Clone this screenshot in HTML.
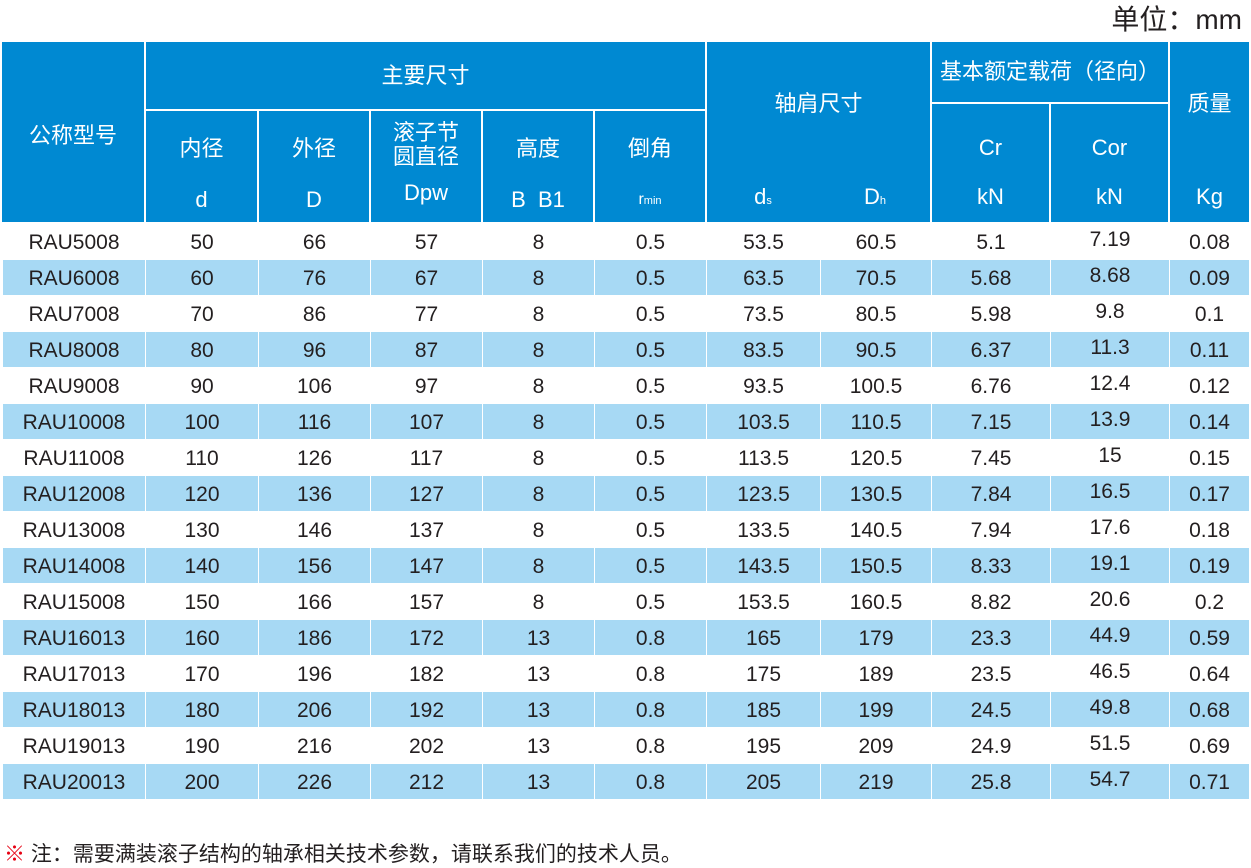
<!DOCTYPE html>
<html><head><meta charset="utf-8"><style>
body{margin:0;width:1251px;height:866px;background:#fff;position:relative;overflow:hidden;font-family:"Liberation Sans","Noto Sans CJK SC",sans-serif;color:#231f20}
.h{position:absolute;background:#0089d2;color:#fff;font-size:22px;text-align:center;box-sizing:border-box}
.unit{position:absolute;right:9px;top:-2px;font-size:28px;color:#231f20}
table{position:absolute;left:2px;top:223px;border-collapse:collapse;table-layout:fixed;font-size:21px}
td{height:32px;border:1px solid #fff;text-align:center;padding:3px 0 0 0;line-height:32px;vertical-align:top;overflow:hidden;white-space:nowrap}
tr:nth-child(even) td{background:#a7d9f4}
td.c{padding-top:0;height:35px}
.note{position:absolute;left:4px;top:838px;font-size:21px;color:#231f20}
.note b{color:#e60012;font-weight:normal}
sub{font-size:11px;vertical-align:baseline}
</style></head><body>
<div class="unit">单位：mm</div>
<div class="h" style="left:2px;top:42px;width:142px;height:180px;padding-top:76px">公称型号</div>
<div class="h" style="left:146px;top:42px;width:559px;height:67px;line-height:67px">主要尺寸</div>
<div class="h" style="left:146px;top:111px;width:111px;height:111px;padding-top:22px;line-height:32px">内径<br><span style="line-height:70px">d</span></div>
<div class="h" style="left:259px;top:111px;width:110px;height:111px;padding-top:22px;line-height:32px">外径<br><span style="line-height:70px">D</span></div>
<div class="h" style="left:371px;top:111px;width:110px;height:111px;padding-top:10px;line-height:24px">滚子节<br>圆直径<br><span style="line-height:48px">Dpw</span></div>
<div class="h" style="left:483px;top:111px;width:110px;height:111px;padding-top:22px;line-height:32px">高度<br><span style="line-height:70px">B&nbsp;&nbsp;B1</span></div>
<div class="h" style="left:595px;top:111px;width:110px;height:111px;padding-top:22px;line-height:32px">倒角<br><span style="line-height:70px;font-size:16px">r<sub>min</sub></span></div>
<div class="h" style="left:707px;top:42px;width:223px;height:180px;padding-top:44px">轴肩尺寸</div>
<div class="h" style="left:707px;top:184px;width:112px;height:30px;background:none">d<sub>s</sub></div>
<div class="h" style="left:819px;top:184px;width:112px;height:30px;background:none">D<sub>h</sub></div>
<div class="h" style="left:932px;top:42px;width:236px;height:60px;line-height:60px">基本额定载荷（径向）</div>
<div class="h" style="left:932px;top:104px;width:117px;height:118px;padding-top:28px;line-height:32px">Cr<br><span style="line-height:66px">kN</span></div>
<div class="h" style="left:1051px;top:104px;width:117px;height:118px;padding-top:28px;line-height:32px">Cor<br><span style="line-height:66px">kN</span></div>
<div class="h" style="left:1170px;top:42px;width:79px;height:180px;padding-top:44px">质量<br><span style="display:block;margin-top:66px">Kg</span></div>
<table>
<colgroup><col style="width:143px"><col style="width:113px"><col style="width:112px"><col style="width:112px"><col style="width:112px"><col style="width:112px"><col style="width:114px"><col style="width:111px"><col style="width:119px"><col style="width:119px"><col style="width:80px"></colgroup>
<tr><td>RAU5008</td><td>50</td><td>66</td><td>57</td><td>8</td><td>0.5</td><td>53.5</td><td>60.5</td><td>5.1</td><td class="c">7.19</td><td>0.08</td></tr>
<tr><td>RAU6008</td><td>60</td><td>76</td><td>67</td><td>8</td><td>0.5</td><td>63.5</td><td>70.5</td><td>5.68</td><td class="c">8.68</td><td>0.09</td></tr>
<tr><td>RAU7008</td><td>70</td><td>86</td><td>77</td><td>8</td><td>0.5</td><td>73.5</td><td>80.5</td><td>5.98</td><td class="c">9.8</td><td>0.1</td></tr>
<tr><td>RAU8008</td><td>80</td><td>96</td><td>87</td><td>8</td><td>0.5</td><td>83.5</td><td>90.5</td><td>6.37</td><td class="c">11.3</td><td>0.11</td></tr>
<tr><td>RAU9008</td><td>90</td><td>106</td><td>97</td><td>8</td><td>0.5</td><td>93.5</td><td>100.5</td><td>6.76</td><td class="c">12.4</td><td>0.12</td></tr>
<tr><td>RAU10008</td><td>100</td><td>116</td><td>107</td><td>8</td><td>0.5</td><td>103.5</td><td>110.5</td><td>7.15</td><td class="c">13.9</td><td>0.14</td></tr>
<tr><td>RAU11008</td><td>110</td><td>126</td><td>117</td><td>8</td><td>0.5</td><td>113.5</td><td>120.5</td><td>7.45</td><td class="c">15</td><td>0.15</td></tr>
<tr><td>RAU12008</td><td>120</td><td>136</td><td>127</td><td>8</td><td>0.5</td><td>123.5</td><td>130.5</td><td>7.84</td><td class="c">16.5</td><td>0.17</td></tr>
<tr><td>RAU13008</td><td>130</td><td>146</td><td>137</td><td>8</td><td>0.5</td><td>133.5</td><td>140.5</td><td>7.94</td><td class="c">17.6</td><td>0.18</td></tr>
<tr><td>RAU14008</td><td>140</td><td>156</td><td>147</td><td>8</td><td>0.5</td><td>143.5</td><td>150.5</td><td>8.33</td><td class="c">19.1</td><td>0.19</td></tr>
<tr><td>RAU15008</td><td>150</td><td>166</td><td>157</td><td>8</td><td>0.5</td><td>153.5</td><td>160.5</td><td>8.82</td><td class="c">20.6</td><td>0.2</td></tr>
<tr><td>RAU16013</td><td>160</td><td>186</td><td>172</td><td>13</td><td>0.8</td><td>165</td><td>179</td><td>23.3</td><td class="c">44.9</td><td>0.59</td></tr>
<tr><td>RAU17013</td><td>170</td><td>196</td><td>182</td><td>13</td><td>0.8</td><td>175</td><td>189</td><td>23.5</td><td class="c">46.5</td><td>0.64</td></tr>
<tr><td>RAU18013</td><td>180</td><td>206</td><td>192</td><td>13</td><td>0.8</td><td>185</td><td>199</td><td>24.5</td><td class="c">49.8</td><td>0.68</td></tr>
<tr><td>RAU19013</td><td>190</td><td>216</td><td>202</td><td>13</td><td>0.8</td><td>195</td><td>209</td><td>24.9</td><td class="c">51.5</td><td>0.69</td></tr>
<tr><td>RAU20013</td><td>200</td><td>226</td><td>212</td><td>13</td><td>0.8</td><td>205</td><td>219</td><td>25.8</td><td class="c">54.7</td><td>0.71</td></tr>
</table>
<div class="note"><b>※</b> 注：需要满装滚子结构的轴承相关技术参数，请联系我们的技术人员。</div>
</body></html>
